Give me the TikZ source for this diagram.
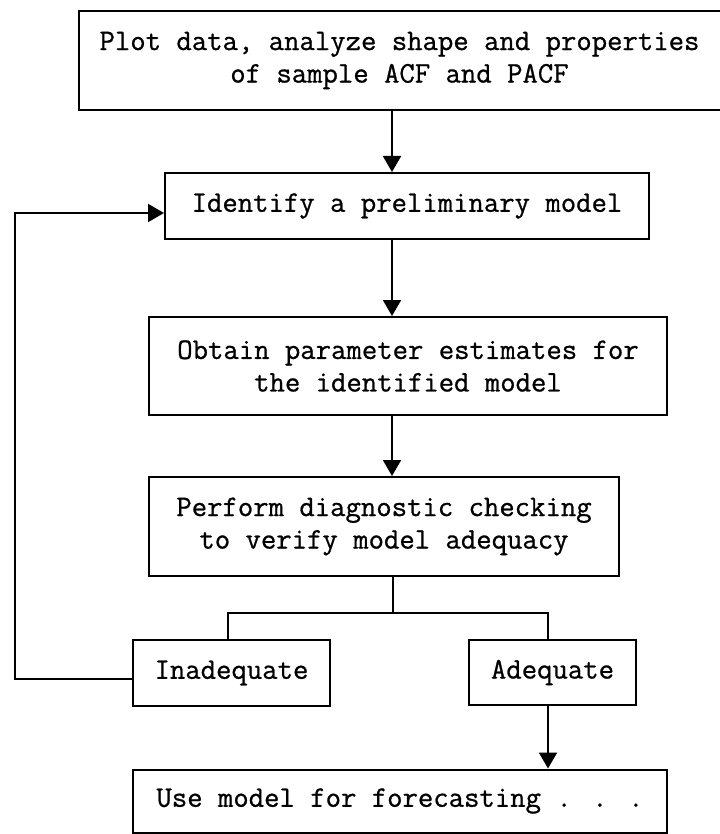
\documentclass[tikz,border=0pt]{standalone}
\usepackage{fontspec}
\newfontfamily\twfont{Latin Modern Mono}[FakeBold=0.8]
\usetikzlibrary{arrows.meta}
\begin{document}
\begin{tikzpicture}[x=0.75pt,y=-0.75pt,
  box/.style={draw=black, line width=1.5pt, inner sep=0pt, align=center,
    font=\twfont\fontsize{22.4}{24.4}\selectfont},
  conn/.style={line width=1.5pt},
  arr/.style={conn, -{Triangle[length=12pt,width=13.5pt]}}]
\useasboundingbox (0,0) rectangle (719,834);
% boxes
\node[box, draw=none, minimum width=479.25pt, minimum height=72.75pt] (b1) at (399.5,60.5)
  {Plot data, analyze shape and properties\\of sample ACF and PACF};
\draw[conn] (b1.north east) -- (b1.north west) -- (b1.south west) -- (b1.south east);
\node[box, minimum width=363pt, minimum height=49.5pt] (b2) at (407,206)
  {Identify a preliminary model};
\node[box, minimum width=388.5pt, minimum height=73.5pt] (b3) at (408,366)
  {Obtain parameter estimates for\\the identified model};
\node[box, minimum width=352.5pt, minimum height=74.25pt] (b4) at (384,526.5)
  {Perform diagnostic checking\\to verify model adequacy};
\node[box, minimum width=147.75pt, minimum height=49.5pt] (inad) at (231.5,673)
  {Inadequate};
\node[box, minimum width=125.25pt, minimum height=48.75pt] (adeq) at (552.5,672.5)
  {Adequate};
\node[box, minimum width=400.5pt, minimum height=47.25pt] (b5) at (400,801)
  {Use model for forecasting . . .};
% helper coordinates
\coordinate (ax) at (392,0);
\coordinate (j) at (393,613);
\coordinate (jl) at (228,613);
\coordinate (jr) at (548,613);
\coordinate (fbA) at (15,679);
\coordinate (fbB) at (15,213);
% connectors
\draw[arr] (b1.south -| ax) -- (b2.north -| ax);
\draw[arr] (b2.south -| ax) -- (b3.north -| ax);
\draw[arr] (b3.south -| ax) -- (b4.north -| ax);
\draw[conn] (b4.south -| j) -- (j);
\draw[conn] (inad.north -| jl) -- (jl) -- (jr) -- (adeq.north -| jr);
\draw[arr] (adeq.south -| jr) -- (b5.north -| jr);
\draw[arr] (inad.west |- fbA) -- (fbA) -- (fbB) -- (b2.west |- fbB);
\end{tikzpicture}
\end{document}
